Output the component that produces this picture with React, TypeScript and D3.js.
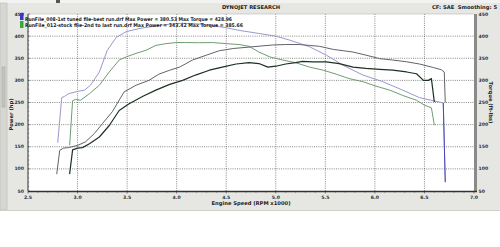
import React from "react";
import * as d3 from "d3";

type P = [number, number];

const xTicks = [2.5, 3.0, 3.5, 4.0, 4.5, 5.0, 5.5, 6.0, 6.5, 7.0];
const yTicks = [50, 100, 150, 200, 250, 300, 350, 400, 450];

const legendLabels = [
  "RunFile_008-1st tuned file-best run.drf Max Power = 380.53 Max Torque = 428.96",
  "RunFile_012-stock file-2nd to last run.drf Max Power = 343.42 Max Torque = 385.66",
];

// Run 008 torque (ft-lbs)
const tunedTorque: P[] = [
  [2.8, 159], [2.84, 261], [2.87, 264], [2.91, 270], [3.0, 275], [3.07, 278], [3.13, 289],
  [3.22, 319], [3.3, 368], [3.39, 397], [3.49, 410], [3.62, 417], [3.76, 422], [3.93, 427],
  [4.05, 429], [4.2, 428], [4.35, 424], [4.5, 419], [4.63, 413], [4.83, 406], [5.0, 400],
  [5.14, 391], [5.34, 376], [5.51, 357], [5.68, 334], [5.88, 312], [6.08, 297], [6.28, 278],
  [6.45, 261], [6.59, 254], [6.69, 249], [6.71, 70],
];
// Run 008 power (hp)
const tunedPower: P[] = [
  [2.79, 88], [2.82, 142], [2.86, 147], [2.91, 148], [3.0, 153], [3.08, 161], [3.17, 180],
  [3.25, 202], [3.35, 229], [3.47, 274], [3.59, 289], [3.72, 300], [3.82, 314], [3.93, 323],
  [4.03, 330], [4.16, 346], [4.3, 357], [4.43, 367], [4.57, 372], [4.77, 376], [4.97, 380],
  [5.1, 381], [5.24, 381], [5.34, 379], [5.44, 377], [5.58, 370], [5.68, 367], [5.78, 364],
  [5.91, 357], [6.05, 349], [6.18, 346], [6.32, 342], [6.45, 337], [6.59, 329], [6.67, 324],
  [6.7, 319], [6.71, 250],
];
// Run 012 torque (ft-lbs)
const stockTorque: P[] = [
  [2.92, 153], [2.95, 254], [2.98, 257], [3.03, 255], [3.12, 270], [3.22, 289], [3.32, 319],
  [3.42, 346], [3.49, 353], [3.59, 361], [3.69, 368], [3.79, 379], [3.89, 383], [4.0, 385.5],
  [4.09, 385.5], [4.23, 385], [4.36, 385.5], [4.5, 383], [4.63, 381], [4.73, 377], [4.83, 364],
  [4.94, 353], [5.07, 346], [5.2, 340], [5.34, 330], [5.48, 323], [5.61, 314], [5.74, 304],
  [5.88, 297], [6.01, 287], [6.15, 278], [6.28, 266], [6.42, 255], [6.5, 244], [6.57, 238],
  [6.6, 199],
];
// Run 012 power (hp)
const stockPower: P[] = [
  [2.92, 88], [2.95, 143], [3.0, 147], [3.05, 148], [3.12, 157], [3.22, 172], [3.32, 198],
  [3.42, 232], [3.52, 247], [3.66, 264], [3.79, 278], [3.93, 291], [4.06, 300], [4.19, 312],
  [4.33, 323], [4.46, 330], [4.6, 337], [4.73, 340], [4.83, 338], [4.92, 330], [5.0, 332],
  [5.1, 337], [5.2, 340], [5.27, 343], [5.37, 342], [5.51, 342], [5.64, 338], [5.78, 330],
  [5.91, 327], [6.05, 325], [6.18, 323], [6.32, 319], [6.42, 315], [6.49, 300], [6.54, 300],
  [6.57, 304], [6.6, 251],
];

const series = [
  { data: tunedTorque, color: "#9a98cc", width: 1 },
  { data: stockTorque, color: "#6f9c72", width: 1 },
  { data: tunedPower, color: "#62626e", width: 1 },
  { data: stockPower, color: "#1c3220", width: 1.2 },
];

const W = 500;
const H = 247;
const FONT = "'DejaVu Sans', Verdana, sans-serif";

export default function App() {
  const x = d3.scaleLinear().domain([2.5, 7.0]).range([28, 474]);
  const y = d3.scaleLinear().domain([50, 450]).range([191, 14]);
  const line = d3
    .line<P>()
    .x((d) => x(d[0]))
    .y((d) => y(d[1]))
    .curve(d3.curveLinear);

  const minorX = d3.range(25, 71).map((v) => v / 10);
  const minorY = d3.range(50, 451, 10);

  return (
    <svg
      width={W}
      height={H}
      style={{ position: "absolute", left: 0, top: 0, background: "#ffffff" }}
      fontFamily={FONT}
    >
      {/* window background */}
      <rect x={0} y={0} width={W} height={211} fill="#e6e6e2" />
      <rect x={0} y={0} width={W} height={3} fill="#f2f2f0" />
      <rect x={0} y={3} width={7} height={207} fill="#d6d6d2" stroke="#b8b8b4" strokeWidth={0.6} />
      <rect x={2} y={67} width={3} height={40} fill="#c4c4c0" stroke="#a0a09c" strokeWidth={0.5} />
      <rect x={56} y={0} width={4} height={3} fill="#555" />
      <line x1={0} x2={W} y1={210.5} y2={210.5} stroke="#cfcfcb" />

      {/* header */}
      <text x={251} y={9} fontSize={5.2} fontWeight="bold" textAnchor="middle" fill="#222">
        DYNOJET RESEARCH
      </text>
      <text x={497} y={9} fontSize={5.2} fontWeight="bold" textAnchor="end" fill="#222" style={{ whiteSpace: "pre" }}>
        {"CF: SAE  Smoothing: 5"}
      </text>

      {/* plot area */}
      <rect x={x(2.5)} y={y(450)} width={x(7.0) - x(2.5)} height={y(50) - y(450)} fill="#ffffff" />

      {/* grid */}
      {xTicks.slice(1, -1).map((t) => (
        <line
          key={"gx" + t}
          x1={x(t)}
          x2={x(t)}
          y1={y(450)}
          y2={y(50)}
          stroke="#555"
          strokeWidth={0.7}
          strokeDasharray="1,1.2"
        />
      ))}
      {yTicks.slice(1, -1).map((t) => (
        <line
          key={"gy" + t}
          x1={x(2.5)}
          x2={x(7.0)}
          y1={y(t)}
          y2={y(t)}
          stroke="#555"
          strokeWidth={0.7}
          strokeDasharray="1,1.2"
        />
      ))}

      {/* curves */}
      {series.map((s, i) => (
        <path key={i} d={line(s.data) || ""} fill="none" stroke={s.color} strokeWidth={s.width} strokeLinejoin="round" />
      ))}
      <path
        d={line(tunedTorque.slice(-2)) || ""}
        fill="none"
        stroke="#4848c0"
        strokeWidth={1}
      />

      {/* axes frame */}
      <line x1={x(2.5)} x2={x(2.5)} y1={y(450)} y2={y(50)} stroke="#333" strokeWidth={1} />
      <line x1={x(2.5)} x2={x(7.0)} y1={y(450)} y2={y(450)} stroke="#bbb" strokeWidth={0.6} />
      <rect x={x(7.0)} y={y(450)} width={3} height={y(50) - y(450) + 1} fill="#8a8a8a" />
      <line x1={x(2.5)} x2={x(7.0) + 3} y1={y(50) + 0.5} y2={y(50) + 0.5} stroke="#333" strokeWidth={1.6} />
      {minorX.map((t) => (
        <line
          key={"mx" + t}
          x1={x(t)}
          x2={x(t)}
          y1={y(50)}
          y2={y(50) + (Math.abs(t * 2 - Math.round(t * 2)) < 1e-6 ? 2.5 : 1.6)}
          stroke="#333"
          strokeWidth={0.6}
        />
      ))}
      {minorY.map((t) => (
        <line
          key={"my" + t}
          x1={x(2.5)}
          x2={x(2.5) + (t % 50 === 0 ? 2 : 1.2)}
          y1={y(t)}
          y2={y(t)}
          stroke="#333"
          strokeWidth={0.5}
        />
      ))}

      {/* tick labels */}
      {xTicks.map((t) => (
        <text key={"xl" + t} x={x(t)} y={y(50) + 7.5} fontSize={4.6} fontWeight="bold" textAnchor="middle" fill="#333">
          {t.toFixed(1)}
        </text>
      ))}
      {yTicks.map((t) => (
        <text key={"yl" + t} x={x(2.5) - 4} y={y(t) + 1.6} fontSize={4.6} fontWeight="bold" textAnchor="end" fill="#333">
          {t}
        </text>
      ))}
      {yTicks.map((t) => (
        <text key={"yr" + t} x={x(7.0) + 4.5} y={y(t) + 1.6} fontSize={4.6} fontWeight="bold" textAnchor="start" fill="#333">
          {t}
        </text>
      ))}

      {/* axis titles */}
      <text x={251} y={205} fontSize={5.2} fontWeight="bold" textAnchor="middle" fill="#222">
        Engine Speed (RPM x1000)
      </text>
      <text
        transform={`translate(12.5, ${(y(50) + y(450)) / 2 + 12}) rotate(-90)`}
        fontSize={5.2}
        fontWeight="bold"
        textAnchor="middle"
        fill="#222"
      >
        Power (hp)
      </text>
      <text
        transform={`translate(489, ${(y(50) + y(450)) / 2}) rotate(90)`}
        fontSize={5.2}
        fontWeight="bold"
        textAnchor="middle"
        fill="#222"
      >
        Torque (ft-lbs)
      </text>

      {/* legend */}
      <rect x={20} y={13} width={3.5} height={7} fill="#3838c8" />
      <rect x={20} y={21} width={3.5} height={7} fill="#38a838" />
      <text x={25} y={20.5} fontSize={5} fontWeight="bold" fill="#222" textLength={207} lengthAdjust="spacingAndGlyphs">
        {legendLabels[0]}
      </text>
      <text x={25} y={27} fontSize={5} fontWeight="bold" fill="#222" textLength={218} lengthAdjust="spacingAndGlyphs">
        {legendLabels[1]}
      </text>
    </svg>
  );
}
